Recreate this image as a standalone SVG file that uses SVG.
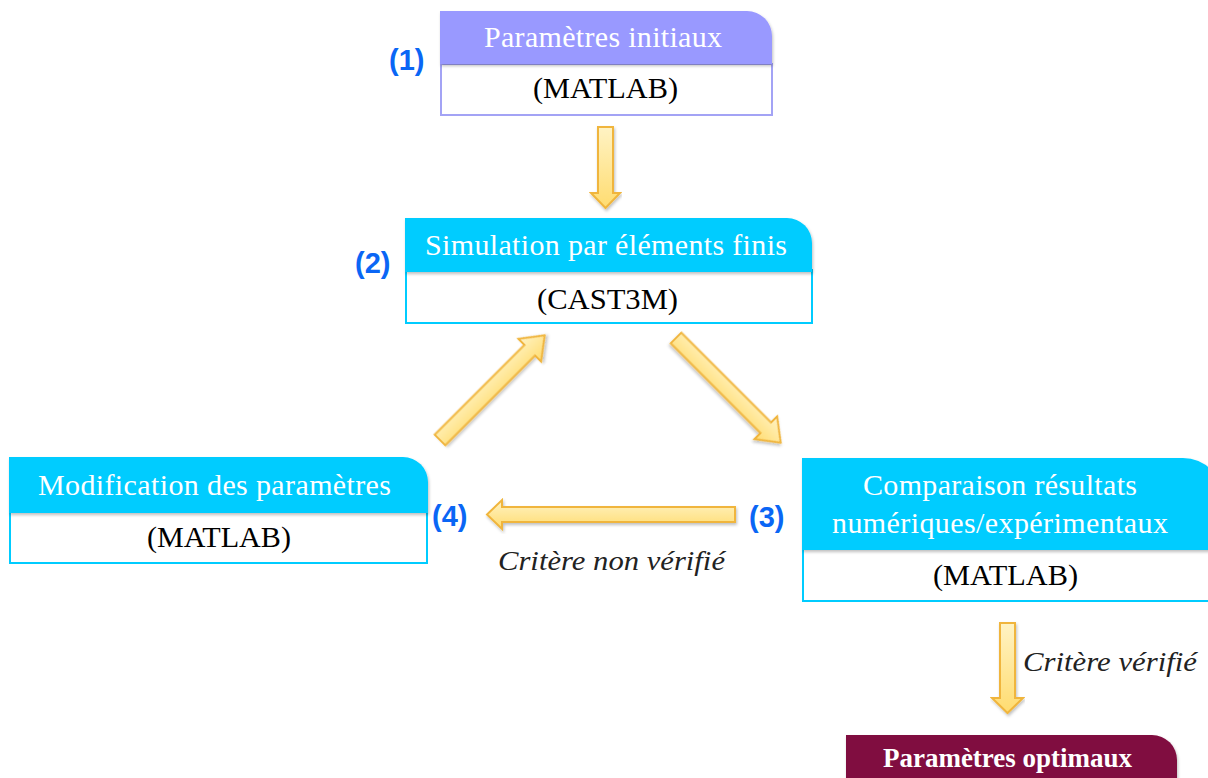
<svg xmlns="http://www.w3.org/2000/svg" width="1208" height="778" viewBox="0 0 1208 778">
<defs>
<linearGradient id="ag" x1="0" y1="0" x2="0" y2="1">
<stop offset="0" stop-color="#fff3c4"/>
<stop offset="1" stop-color="#ffdc70"/>
</linearGradient>
<filter id="sh" x="-5%" y="-5%" width="110%" height="120%">
<feDropShadow dx="1" dy="2" stdDeviation="1.5" flood-color="#000" flood-opacity="0.25"/>
</filter>
</defs>
<style>
.hdr{font-family:"Liberation Serif",serif;font-size:30px;fill:#fff;text-anchor:middle}
.sub{font-family:"Liberation Serif",serif;font-size:29px;fill:#000;text-anchor:middle}
.num{font-family:"Liberation Sans",Arial,sans-serif;font-size:29px;font-weight:bold;fill:#0a66f5}
.crit{font-family:"Liberation Serif",serif;font-style:italic;font-size:27px;fill:#222}
.arrow{fill:url(#ag);stroke:#f0b53c;stroke-width:2;stroke-linejoin:miter}
</style>
<rect width="1208" height="778" fill="#fff"/>

<g id="connectors">
<polygon class="arrow" filter="url(#sh)" points="598,127 613,127 613,193 620,193 605.5,208 591,193 598,193"/>
<polygon class="arrow" filter="url(#sh)" points="1000,623 1015,623 1015,698 1023,698 1007.5,713 992,698 1000,698"/>
<polygon class="arrow" filter="url(#sh)" points="735,507 735,522 502,522 502,529 487,514.5 502,500 502,507"/>
<g transform="translate(440,440) rotate(-45)">
<polygon class="arrow" filter="url(#sh)" points="0,-7.5 127,-7.5 127,-16 148,0 127,16 127,7.5 0,7.5"/>
</g>
<g transform="translate(676,338) rotate(45)">
<polygon class="arrow" filter="url(#sh)" points="0,-7.5 127,-7.5 127,-16 148,0 127,16 127,7.5 0,7.5"/>
</g>
</g>

<g id="node1">
<rect x="441" y="64" width="331" height="51" fill="#fff" stroke="#a3a3f5" stroke-width="2"/>
<path d="M440,64 V11 H747 A25,25 0 0 1 772,36 V64 Z" fill="#9999ff" filter="url(#sh)"/>
<text class="hdr" x="603" y="47" textLength="238" lengthAdjust="spacing">Paramètres initiaux</text>
<text class="sub" x="605.5" y="98" textLength="145" lengthAdjust="spacingAndGlyphs">(MATLAB)</text>
</g>
<text class="num" x="389" y="70">(1)</text>

<g id="node2">
<rect x="406" y="270" width="406" height="53" fill="#fff" stroke="#00ccff" stroke-width="2"/>
<path d="M405,272 V218 H787 A25,25 0 0 1 812,243 V272 Z" fill="#00ccff" filter="url(#sh)"/>
<text class="hdr" x="606" y="255" textLength="362" lengthAdjust="spacing">Simulation par éléments finis</text>
<text class="sub" x="607.5" y="309" textLength="141" lengthAdjust="spacingAndGlyphs">(CAST3M)</text>
</g>
<text class="num" x="355" y="273">(2)</text>

<g id="node3">
<rect x="803" y="548" width="420" height="53" fill="#fff" stroke="#00ccff" stroke-width="2"/>
<path d="M802,550 V458 H1183 A40,40 0 0 1 1223,498 V550 Z" fill="#00ccff" filter="url(#sh)"/>
<text class="hdr" x="1000" y="495" textLength="274" lengthAdjust="spacing">Comparaison résultats</text>
<text class="hdr" x="1000" y="533" textLength="336" lengthAdjust="spacing">numériques/expérimentaux</text>
<text class="sub" x="1005.5" y="585" textLength="145" lengthAdjust="spacingAndGlyphs">(MATLAB)</text>
</g>
<text class="num" x="749" y="527">(3)</text>

<g id="node4">
<rect x="10" y="511" width="417" height="52" fill="#fff" stroke="#00ccff" stroke-width="2"/>
<path d="M9,513 V457 H403 A25,25 0 0 1 428,482 V513 Z" fill="#00ccff" filter="url(#sh)"/>
<text class="hdr" x="214.5" y="495" textLength="353" lengthAdjust="spacing">Modification des paramètres</text>
<text class="sub" x="219" y="547" textLength="144" lengthAdjust="spacingAndGlyphs">(MATLAB)</text>
</g>
<text class="num" x="432" y="526">(4)</text>

<g id="node5">
<path d="M846,790 V735 H1152 A25,25 0 0 1 1177,760 V790 Z" fill="#800d40" filter="url(#sh)"/>
<text class="hdr" x="1007.5" y="767" font-weight="bold" textLength="249" lengthAdjust="spacing" style="font-size:27px">Paramètres optimaux</text>
</g>

<text class="crit" x="498" y="570" textLength="227" lengthAdjust="spacingAndGlyphs">Critère non vérifié</text>
<text class="crit" x="1023" y="671" textLength="174" lengthAdjust="spacingAndGlyphs">Critère vérifié</text>
</svg>
